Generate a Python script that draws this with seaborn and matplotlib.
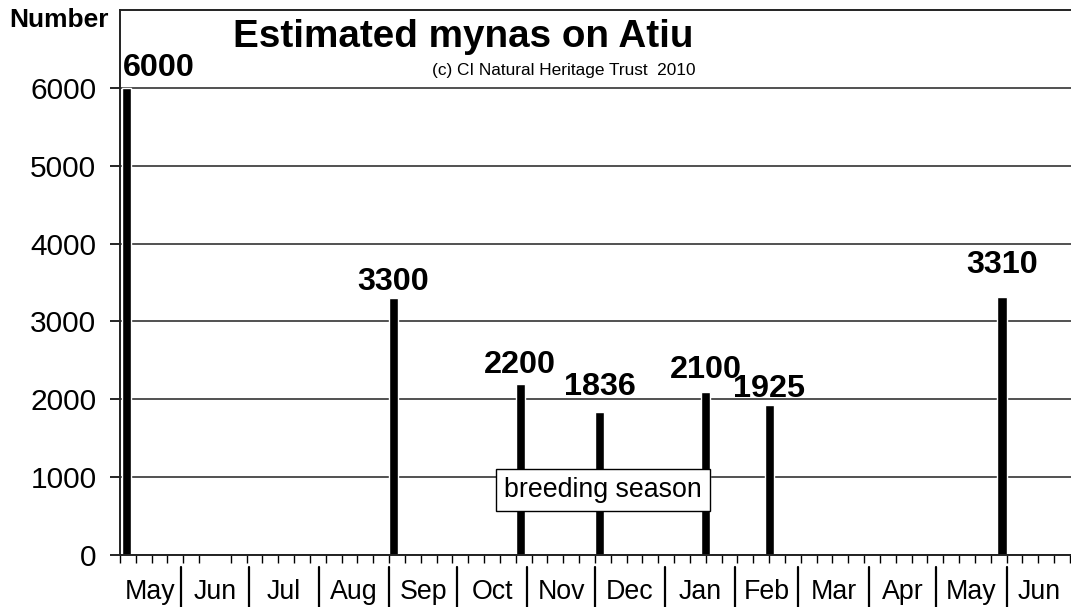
import numpy as np
import pandas as pd
import matplotlib
matplotlib.use("Agg")
import matplotlib.pyplot as plt
import matplotlib.transforms as mtransforms
import seaborn as sns

# --- data ---
START = pd.Timestamp("2009-05-05")
END = pd.Timestamp("2010-06-29")
SURVEY_DATES = ["2009-05-08", "2009-09-03", "2009-10-29", "2009-12-03",
                "2010-01-19", "2010-02-16", "2010-05-30"]
MYNA_COUNTS = [6000, 3300, 2200, 1836, 2100, 1925, 3310]
MONTH_STARTS = ["2009-06-01", "2009-07-01", "2009-08-01", "2009-09-01",
                "2009-10-01", "2009-11-01", "2009-12-01", "2010-01-01",
                "2010-02-01", "2010-03-01", "2010-04-01", "2010-05-01",
                "2010-06-01"]
MONTH_LABELS = ["May", "Jun", "Jul", "Aug", "Sep", "Oct", "Nov", "Dec",
                "Jan", "Feb", "Mar", "Apr", "May", "Jun"]
Y_TICKS = [0, 1000, 2000, 3000, 4000, 5000, 6000]

# label lift above bar tops (px), per bar, as in the picture
LABEL_LIFT = [12, 8, 11, 17, 14, 8, 24]

def days(d):
    return (pd.Timestamp(d) - START).days

x_days = np.array([days(d) for d in SURVEY_DATES], dtype=float)
x_end = (END - START).days + 0.5
month_edges = [0.0] + [float(days(d)) for d in MONTH_STARTS] + [x_end]
month_mids = [(a + b) / 2 for a, b in zip(month_edges[:-1], month_edges[1:])]

df = pd.DataFrame({"day": x_days, "count": MYNA_COUNTS})

sns.set_style("white")
plt.rcParams["font.family"] = ["Liberation Sans", "DejaVu Sans"]
plt.rcParams["text.color"] = "black"
plt.rcParams["xtick.color"] = "black"
plt.rcParams["ytick.color"] = "black"

fig = plt.figure(figsize=(10.71, 6.07), dpi=100)
ax = fig.add_axes([120 / 1071, 52 / 607, 951 / 1071, 545 / 607])

bar_days = 4.0
native = np.diff(np.sort(x_days)).min()
sns.barplot(data=df, x="day", y="count", native_scale=True, color="black",
            saturation=1, width=bar_days / native, errorbar=None, ax=ax)

ax.set_xlim(0, x_end)
ax.set_ylim(0, 7000)
ax.set_xlabel("")
ax.set_ylabel("")

# y axis
ax.set_yticks(Y_TICKS)
ax.set_yticklabels([str(v) for v in Y_TICKS], fontsize=21.5, color="black")
ax.yaxis.grid(True, color="#333333", linewidth=1.2)
ax.set_axisbelow(True)
ax.tick_params(axis="y", direction="out", length=7, width=1.2, color="black",
               pad=10, left=True)

# x axis: weekly minor ticks, month names centred in each month
ax.set_xticks(month_mids)
ax.set_xticklabels(MONTH_LABELS, fontsize=19.3, color="black")
ax.set_xticks(np.arange(0, x_end, 7), minor=True)
ax.tick_params(axis="x", which="major", length=0, pad=17)
ax.tick_params(axis="x", which="minor", direction="out", length=6, width=1,
               color="black", bottom=True)

for side in ["left", "bottom", "top"]:
    ax.spines[side].set_color("#222222")
    ax.spines[side].set_linewidth(1.4)
ax.spines["right"].set_visible(False)

# month dividers below the axis
trans = mtransforms.blended_transform_factory(ax.transData, ax.transAxes)
for edge in month_edges[1:-1]:
    ax.plot([edge, edge], [-0.022, -0.1], color="black", lw=1.6,
            transform=trans, clip_on=False)

# value labels
for i, (xd, v) in enumerate(zip(x_days, MYNA_COUNTS)):
    if i == 0:
        ax.annotate(str(v), (xd, v), xytext=(-3, LABEL_LIFT[i] * 0.72),
                    textcoords="offset points", ha="left", va="baseline",
                    fontsize=23.3, fontweight="bold", color="black")
    else:
        ax.annotate(str(v), (xd, v), xytext=(0, LABEL_LIFT[i] * 0.72),
                    textcoords="offset points", ha="center", va="baseline",
                    fontsize=23.3, fontweight="bold", color="black")

ax.text(0.508, 0.119, "breeding season", transform=ax.transAxes, ha="center",
        va="center", fontsize=19.3, color="black",
        bbox=dict(boxstyle="square,pad=0.3", facecolor="white",
                  edgecolor="black", linewidth=1))

fig.text(463 / 1071, 1 - 37 / 607, "Estimated mynas on Atiu", ha="center",
         va="center", fontsize=27.8, fontweight="bold", color="black")
fig.text(564 / 1071, 1 - 70 / 607, "(c) CI Natural Heritage Trust  2010",
         ha="center", va="center", fontsize=12.4, color="black")
fig.text(59 / 1071, 1 - 20 / 607, "Number", ha="center", va="center",
         fontsize=19, fontweight="bold", color="black")

fig.savefig("out.png", dpi=100, facecolor="white")
